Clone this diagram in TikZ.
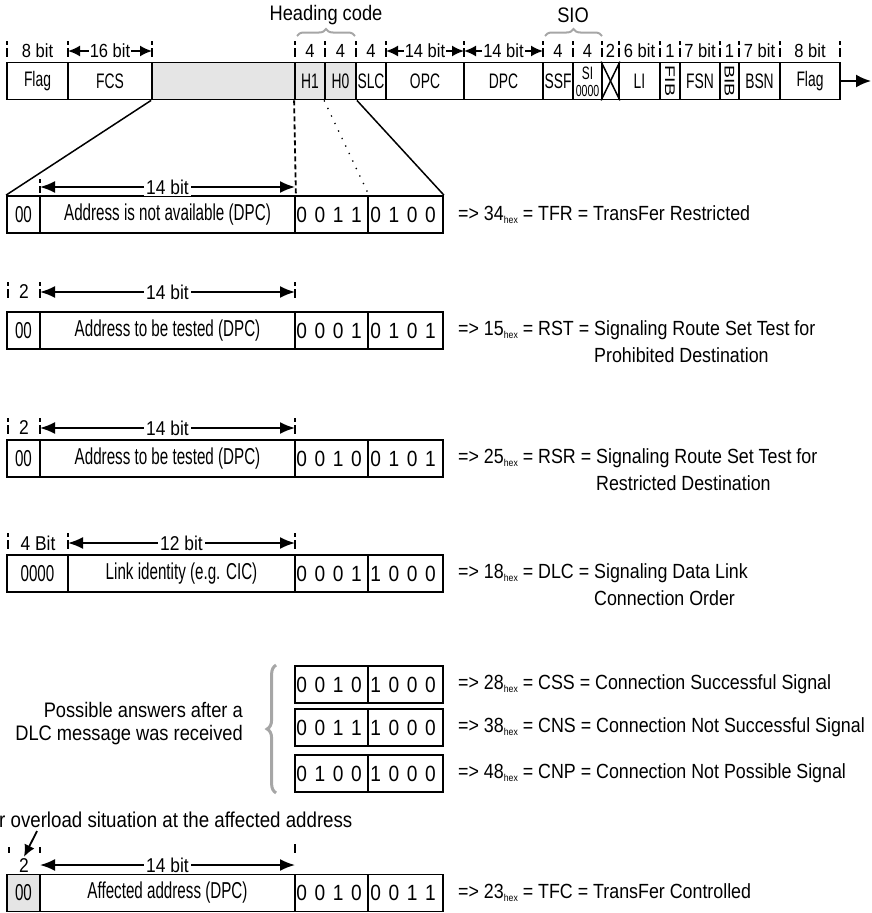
\documentclass[tikz,border=0pt]{standalone}
\usepackage{fontspec}
\setmainfont{Liberation Sans}
\newfontfamily\lblfam[FakeStretch=0.87]{Liberation Sans}
\newfontfamily\boxfam[FakeStretch=0.66]{Liberation Sans}
\usetikzlibrary{arrows.meta,decorations.pathreplacing,positioning}

\definecolor{cellgray}{gray}{0.9}
\definecolor{bracegray}{gray}{0.65}
\newcommand{\hx}{\raisebox{-3pt}{\fontsize{10}{10}\selectfont hex}}

\tikzset{
  cell/.style={draw, line width=1.8pt, minimum height=37pt, inner sep=0pt,
    font=\boxfam\fontsize{21}{22}\selectfont},
  rowcell/.style={cell, font=\boxfam\fontsize{23}{24}\selectfont},
  shaded/.style={fill=cellgray},
  bitlbl/.style={inner sep=1pt, font=\lblfam\fontsize{19}{20}\selectfont},
  rowlbl/.style={inner sep=2pt, font=\lblfam\fontsize{20}{21}\selectfont},
  lbl/.style={inner sep=0pt, font=\lblfam\fontsize{21}{23}\selectfont},
  desc/.style={lbl, anchor=west, font=\lblfam\fontsize{20.5}{22}\selectfont},
  digit/.style={inner sep=0pt, font=\lblfam\fontsize{22}{22}\selectfont},
  vlbl/.style={inner sep=0pt, rotate=-90, xscale=1.6, font=\lblfam\fontsize{14}{14}\selectfont},
  tick/.style={line width=1.8pt, dash pattern=on 4pt off 3pt on 9pt off 30pt},
  toparrow/.style={line width=1.8pt, {Latex[length=12pt,width=11pt]}-{Latex[length=12pt,width=11pt]}},
  rowarrow/.style={line width=1.8pt, {Latex[length=15pt,width=12pt]}-{Latex[length=15pt,width=12pt]}},
  funnel/.style={line width=1.5pt},
  gbrace/.style={decorate, draw=bracegray, line width=2pt, decoration={brace, amplitude=7pt}},
}

% address fields of one message: [style of first], name, y, split, first, second
\newcommand{\msgfields}[6][]{%
  \node[rowcell, #1, minimum width={#4-7}] (#2a) at ({(7+#4)/2},#3) {#5};
  \node[rowcell, minimum width={295-#4}] (#2b) at ({(#4+295)/2},#3) {#6};}
% heading code nibbles: name, y, bits, bits
\newcommand{\msgnibbles}[4]{%
  \node[rowcell, minimum width=73] (#1c) at (331.5,#2) {};
  \node[rowcell, minimum width=75] (#1d) at (405.5,#2) {};
  \foreach \d [count=\i] in {#3}
    \node[digit] (#1c\i) at ([xshift={(\i-0.5)*18.25-1.5}]#1c.west) {\d};
  \foreach \d [count=\i] in {#4}
    \node[digit] (#1d\i) at ([xshift={(\i-0.5)*18.25-0.5}]#1d.west) {\d};}

\begin{document}
\begin{tikzpicture}[x=1pt,y=-1pt]
  \useasboundingbox (0,0) rectangle (871,913);

  % signal unit
  \node[cell, minimum width=61] (flaga) at (37.5,81) {Flag};
  \node[cell, minimum width=84] (fcs) at (110,81) {FCS};
  \node[cell, shaded, minimum width=143] (sif) at (223.5,81) {};
  \node[cell, shaded, minimum width=30] (hone) at (310,81) {H1};
  \node[cell, shaded, minimum width=31] (hzero) at (340.5,81) {H0};
  \node[cell, minimum width=30] (slc) at (371,81) {SLC};
  \node[cell, minimum width=78] (opc) at (425,81) {OPC};
  \node[cell, minimum width=79] (dpc) at (503.5,81) {DPC};
  \node[cell, minimum width=30] (ssf) at (558,81) {SSF};
  \node[cell, minimum width=29] (si) at (587.5,81) {};
  \node[inner sep=0pt, font=\boxfam\fontsize{18}{18}\selectfont] (sitop) at (587.5,73.5) {SI};
  \node[inner sep=0pt, font=\boxfam\fontsize{16}{16}\selectfont] (sibot) at (587.5,91) {0000};
  \node[cell, minimum width=17] (spare) at (610.5,81) {};
  \draw[line width=1.5pt] (spare.north west) -- (spare.south east);
  \draw[line width=1.5pt] (spare.south west) -- (spare.north east);
  \node[cell, minimum width=41] (li) at (639.5,81) {LI};
  \node[cell, minimum width=20] (fib) at (670,81) {};
  \node[vlbl] (fibtxt) at (fib) {FIB};
  \node[cell, minimum width=40] (fsn) at (700,81) {FSN};
  \node[cell, minimum width=19] (bib) at (729.5,81) {};
  \node[vlbl] (bibtxt) at (bib) {BIB};
  \node[cell, minimum width=41] (bsn) at (759.5,81) {BSN};
  \node[cell, minimum width=60] (flagb) at (810,81) {Flag};
  \coordinate (out) at (871,81);
  \draw[line width=2pt, -{Latex[length=15pt,width=13pt]}] (flagb.east) -- (out);

  % field lengths
  \foreach \x in {7,68,152,295,325,356,386,464,543,573,602,619,660,680,720,739,780,840}
    \draw[tick] (\x,41) -- (\x,58);
  \node[bitlbl] (len1) at (37.5,51) {8 bit};
  \draw[toparrow] (68,51) -- node[bitlbl, fill=white] (len2) {16 bit} (152,51);
  \node[bitlbl] (len3) at (310,51) {4};
  \node[bitlbl] (len4) at (340.5,51) {4};
  \node[bitlbl] (len5) at (371,51) {4};
  \draw[toparrow] (386,51) -- node[bitlbl, fill=white] (len6) {14 bit} (464,51);
  \draw[toparrow] (464,51) -- node[bitlbl, fill=white] (len7) {14 bit} (543,51);
  \node[bitlbl] (len8) at (558,51) {4};
  \node[bitlbl] (len9) at (587.5,51) {4};
  \node[bitlbl] (len10) at (610.5,51) {2};
  \node[bitlbl] (len11) at (639.5,51) {6 bit};
  \node[bitlbl] (len12) at (670,51) {1};
  \node[bitlbl] (len13) at (700,51) {7 bit};
  \node[bitlbl] (len14) at (729.5,51) {1};
  \node[bitlbl] (len15) at (759.5,51) {7 bit};
  \node[bitlbl] (len16) at (810,51) {8 bit};

  % heading code and SIO
  \node[lbl] (head) at (326,15) {Heading code};
  \draw[gbrace] (297,36) -- (355,36);
  \node[lbl] (sio) at (573,15) {SIO};
  \draw[gbrace] (545,36) -- (602,36);

  % TFR
  \msgfields{ra}{214.5}{40}{00}{Address is not available (DPC)}
  \msgnibbles{ra}{214.5}{0,0,1,1}{0,1,0,0}
  \draw[funnel] (sif.south west) -- (raa.north west);
  \draw[funnel] (hzero.south east) -- (rad.north east);
  \draw[line width=1.8pt, dash pattern=on 5pt off 3pt] (hone.south west) -- (rab.north east);
  \draw[line width=1.3pt, dash pattern=on 1.3pt off 7pt] (hzero.south west) -- (rac.north east);
  \draw[tick] (40,179) -- (40,193);
  \draw[rowarrow] (40,187) -- node[rowlbl, fill=white] (lena) {14 bit} (295,187);
  \node[desc] (da) at (458,214.5) {=> 34\hx{} = TFR = TransFer Restricted};

  % RST
  \msgfields{rb}{330.5}{40}{00}{Address to be tested (DPC)}
  \msgnibbles{rb}{330.5}{0,0,0,1}{0,1,0,1}
  \foreach \x in {8,40,295} \draw[tick] (\x,282) -- (\x,298);
  \node[rowlbl] (twob) at (24,292) {2};
  \draw[rowarrow] (40,292) -- node[rowlbl, fill=white] (lenb) {14 bit} (295,292);
  \node[desc] (db) at (458,330.5) {=> 15\hx{} = RST = Signaling Route Set Test for};
  \node[desc] (dbx) at ([yshift=-26pt]db.west) {\phantom{=> 15\hx{} = RST = }Prohibited Destination};

  % RSR
  \msgfields{rc}{458.5}{40}{00}{Address to be tested (DPC)}
  \msgnibbles{rc}{458.5}{0,0,1,0}{0,1,0,1}
  \foreach \x in {8,40,295} \draw[tick] (\x,418) -- (\x,434);
  \node[rowlbl] (twoc) at (24,428) {2};
  \draw[rowarrow] (40,428) -- node[rowlbl, fill=white] (lenc) {14 bit} (295,428);
  \node[desc] (dc) at (458,458.5) {=> 25\hx{} = RSR = Signaling Route Set Test for};
  \node[desc] (dcx) at ([yshift=-26pt]dc.west) {\phantom{=> 25\hx{} = RSR = }Restricted Destination};

  % DLC
  \msgfields{rd}{573.5}{68}{0000}{Link identity (e.g. CIC)}
  \msgnibbles{rd}{573.5}{0,0,0,1}{1,0,0,0}
  \foreach \x in {8,68,295} \draw[tick] (\x,533) -- (\x,549);
  \node[rowlbl] (fourd) at (38,543) {4 Bit};
  \draw[rowarrow] (68,543) -- node[rowlbl, fill=white] (lend) {12 bit} (295,543);
  \node[desc] (dd) at (458,573.5) {=> 18\hx{} = DLC = Signaling Data Link};
  \node[desc] (ddx) at ([yshift=-26pt]dd.west) {\phantom{=> 18\hx{} = DLC = }Connection Order};

  % answers to DLC
  \msgnibbles{re}{684.5}{0,0,1,0}{1,0,0,0}
  \msgnibbles{rf}{727.5}{0,0,1,1}{1,0,0,0}
  \msgnibbles{rg}{773.5}{0,1,0,0}{1,0,0,0}
  \node[desc] (de) at (458,684.5) {=> 28\hx{} = CSS = Connection Successful Signal};
  \node[desc] (df) at (458,727.5) {=> 38\hx{} = CNS = Connection Not Successful Signal};
  \node[desc] (dg) at (458,773.5) {=> 48\hx{} = CNP = Connection Not Possible Signal};
  \draw[gbrace, line width=3pt, decoration={amplitude=9pt}] ([xshift=-18pt]rgc.south west) -- ([xshift=-18pt]rec.north west);
  \node[lbl, align=right, anchor=east] (poss) at (243,723.5) {Possible answers after a\\DLC message was received};

  % TFC
  \node[lbl, anchor=west, font=\lblfam\fontsize{21.5}{23}\selectfont] (ovl) at (-1,820) {r overload situation at the affected address};
  \msgfields[shaded]{rh}{893}{40}{00}{Affected address (DPC)}
  \msgnibbles{rh}{893}{0,0,1,0}{0,0,1,1}
  \foreach \x in {9,40} \draw[line width=1.5pt] (\x,847) -- (\x,853);
  \draw[line width=1.5pt] (295,844) -- (295,853);
  \node[rowlbl] (twoh) at (24,866) {2};
  \draw[line width=1.8pt, -{Latex[length=12pt,width=11pt]}] ([xshift=38pt,yshift=-3pt]ovl.south west) -- (twoh.north);
  \draw[rowarrow] (40,865) -- node[rowlbl, fill=white] (lenh) {14 bit} (295,865);
  \node[desc] (dh) at (458,893) {=> 23\hx{} = TFC = TransFer Controlled};
\end{tikzpicture}
\end{document}
